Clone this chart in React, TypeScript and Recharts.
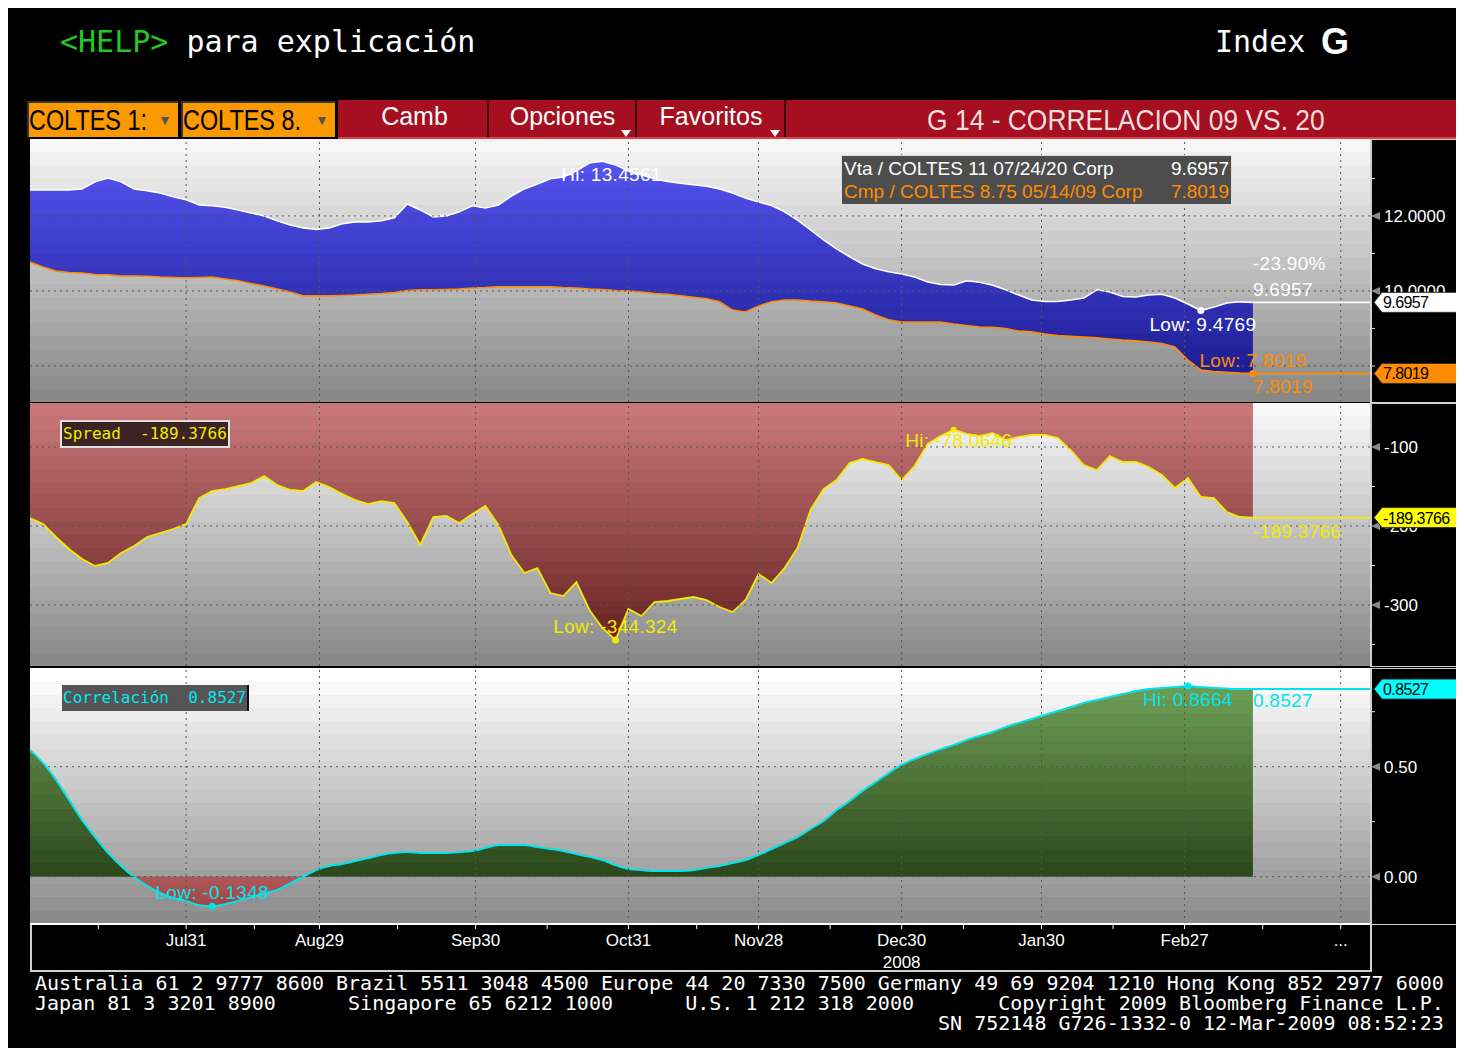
import React from "react";
import { Area, CartesianGrid, ComposedChart, Line, ReferenceDot, ReferenceLine, XAxis, YAxis } from "recharts";

const FONT = "'Liberation Sans', Arial, sans-serif";
const MONO = "'DejaVu Sans Mono', 'Liberation Mono', monospace";

// one reading every second trading day, mid Jun 2008 .. 12 Mar 2009
const vta = [
  12.69, 12.69, 12.69, 12.69, 12.72, 12.91, 13.01, 12.91, 12.72, 12.67,
  12.61, 12.51, 12.43, 12.29, 12.27, 12.23, 12.16, 12.08, 12.0, 11.87,
  11.76, 11.68, 11.64, 11.68, 11.79, 11.84, 11.84, 11.87, 11.95, 12.32,
  12.16, 11.97, 12.0, 12.11, 12.27, 12.21, 12.29, 12.53, 12.72, 12.85,
  12.99, 13.04, 13.2, 13.41, 13.4561, 13.36, 13.2, 13.09, 12.99, 12.92,
  12.87, 12.83, 12.79, 12.72, 12.61, 12.48, 12.37, 12.28, 12.11, 11.89,
  11.63, 11.36, 11.12, 10.91, 10.72, 10.59, 10.51, 10.45, 10.37, 10.24,
  10.17, 10.16, 10.27, 10.23, 10.15, 10.03, 9.89, 9.76, 9.72, 9.72,
  9.76, 9.81, 10.03, 9.97, 9.85, 9.84, 9.89, 9.91, 9.81, 9.65,
  9.4769, 9.57, 9.68, 9.71, 9.6957,
];

const cmp = [
  10.77, 10.64, 10.53, 10.49, 10.48, 10.44, 10.43, 10.4, 10.4, 10.39,
  10.37, 10.36, 10.35, 10.36, 10.37, 10.32, 10.27, 10.2, 10.13, 10.05,
  9.97, 9.87, 9.87, 9.87, 9.88, 9.89, 9.91, 9.93, 9.96, 10.01,
  10.03, 10.03, 10.04, 10.05, 10.08, 10.09, 10.11, 10.11, 10.11, 10.11,
  10.11, 10.09, 10.08, 10.05, 10.04, 10.01, 10.0, 9.97, 9.93, 9.91,
  9.87, 9.83, 9.79, 9.71, 9.49, 9.44, 9.6, 9.71, 9.76, 9.76,
  9.73, 9.71, 9.68, 9.6, 9.52, 9.36, 9.23, 9.17, 9.17, 9.17,
  9.17, 9.12, 9.08, 9.04, 9.03, 9.0, 8.93, 8.91, 8.85, 8.81,
  8.79, 8.77, 8.75, 8.72, 8.69, 8.67, 8.64, 8.6, 8.51, 8.16,
  7.89, 7.85, 7.83, 7.81, 7.8019,
];

const spread = [
  -189.9, -197.5, -213.9, -229.1, -241.8, -250.6, -246.8, -234.2, -225.3, -213.9,
  -208.9, -203.8, -197.5, -164.6, -155.7, -153.2, -149.4, -145.6, -136.7, -148.1,
  -154.4, -155.7, -144.3, -150.6, -159.5, -167.1, -172.2, -168.4, -170.9, -194.9,
  -224.0, -188.6, -187.3, -196.2, -184.8, -174.7, -198.7, -236.7, -259.5, -253.2,
  -284.8, -288.6, -270.9, -306.3, -329.1, -344.324, -305.1, -313.9, -296.2, -294.9,
  -292.4, -289.9, -293.7, -302.5, -308.9, -293.7, -260.8, -272.2, -253.2, -227.8,
  -179.7, -153.2, -141.8, -120.3, -115.2, -119.0, -122.8, -141.8, -124.1, -96.2,
  -86.1, -78.0646, -83.5, -86.1, -82.3, -91.1, -87.3, -84.8, -84.8, -88.6,
  -103.8, -122.8, -129.1, -111.4, -119.0, -119.0, -125.3, -135.4, -151.9, -139.2,
  -163.3, -164.6, -182.3, -188.6, -189.3766,
];

const corr = [
  0.576, 0.517, 0.44, 0.349, 0.258, 0.18, 0.108, 0.049, -0.001, -0.042,
  -0.074, -0.097, -0.11, -0.13, -0.1348, -0.125, -0.11, -0.093, -0.075, -0.06,
  -0.03, 0.0, 0.03, 0.049, 0.058, 0.071, 0.085, 0.099, 0.108, 0.112,
  0.108, 0.108, 0.108, 0.112, 0.117, 0.13, 0.144, 0.144, 0.144, 0.135,
  0.126, 0.117, 0.103, 0.09, 0.076, 0.053, 0.035, 0.03, 0.026, 0.026,
  0.026, 0.03, 0.04, 0.049, 0.062, 0.076, 0.099, 0.126, 0.153, 0.18,
  0.217, 0.253, 0.303, 0.344, 0.39, 0.43, 0.471, 0.508, 0.535, 0.558,
  0.58, 0.599, 0.621, 0.64, 0.658, 0.68, 0.699, 0.717, 0.735, 0.753,
  0.771, 0.79, 0.803, 0.817, 0.83, 0.844, 0.853, 0.858, 0.862, 0.8664,
  0.862, 0.858, 0.855, 0.853, 0.8527,
];

const dateTicks = [24, 44.5, 68.5, 92, 112, 134, 155.5, 177.5, 201.5];
const dateLabels = ["Jul31", "Aug29", "Sep30", "Oct31", "Nov28", "Dec30", "Jan30", "Feb27", "..."];
const yearLabels = ["", "", "", "", "", "2008", "", "", ""];
const minorDateTicks = [10.5, 34.5, 56.5, 79.5, 102.5, 123, 143.5, 166.5, 189.5];

// labelled levels, levels drawn as grid lines, and small unlabelled dashes
const priceTicks = [10, 12];
const priceGrid = [8, 10, 12];
const priceMinor = [8, 9, 11, 13];
const spreadTicks = [-100, -200, -300];
const spreadMinor = [-150, -250, -350];
const corrTicks = [0, 0.5];
const corrMinor = [0.25, 0.75];

const footer = [
  "Australia 61 2 9777 8600 Brazil 5511 3048 4500 Europe 44 20 7330 7500 Germany 49 69 9204 1210 Hong Kong 852 2977 6000",
  "Japan 81 3 3201 8900      Singapore 65 6212 1000      U.S. 1 212 318 2000       Copyright 2009 Bloomberg Finance L.P.",
  "                                                                           SN 752148 G726-1332-0 12-Mar-2009 08:52:23",
];

const STEP = 2;
const X_DOMAIN = [0, 206];
const PRICE_DOMAIN = [7.04, 14.05];
const SPREAD_DOMAIN = [-377.2, -44.3];
const CORR_DOMAIN = [-0.215, 0.9486];

const rows = vta.map((v, i) => ({
  t: i * STEP,
  vta: v,
  cmp: cmp[i],
  band: [cmp[i], v],
  spread: spread[i],
  corr: corr[i],
}));
const lastT = rows[rows.length - 1].t;
const last = (a: number[]) => a[a.length - 1];
const argMax = (a: number[]) => a.indexOf(Math.max(...a));
const argMin = (a: number[]) => a.indexOf(Math.min(...a));

const W = 1432;
const AXIS_W = 92;
const M = { top: 0, right: 0, bottom: 0, left: 0 };
const GRID = "#555555";

function mix(a: string, b: string, f: number) {
  const pa = [1, 3, 5].map((i) => parseInt(a.slice(i, i + 2), 16));
  const pb = [1, 3, 5].map((i) => parseInt(b.slice(i, i + 2), 16));
  return `rgb(${pa.map((v, j) => Math.round(v + (pb[j] - v) * f)).join(",")})`;
}

function bandStops(top: string, bottom: string, n: number, from = 0, to = 1) {
  const out: React.ReactNode[] = [];
  for (let i = 0; i < n; i++) {
    const c = mix(top, bottom, n === 1 ? 0 : i / (n - 1));
    out.push(<stop key={`${i}a`} offset={from + ((to - from) * i) / n} stopColor={c} />);
    out.push(<stop key={`${i}b`} offset={from + ((to - from) * (i + 1)) / n} stopColor={c} />);
  }
  return out;
}

const corrHi = Math.max(...corr, 0);
const corrLo = Math.min(...corr, 0);
const zeroAt = corrHi / (corrHi - corrLo);

type Note = { text: string; color: string; dx?: number; dy: number };
type Tag = { value: number; text: string; fill: string };

function NoteLabel(props: any) {
  const { viewBox, notes } = props;
  if (!viewBox) return null;
  const cx = viewBox.x + (viewBox.width || 0) / 2;
  const cy = viewBox.y + (viewBox.height || 0) / 2;
  return (
    <g>
      {notes.map((n: Note, i: number) => (
        <text key={i} x={cx + (n.dx || 0)} y={cy + n.dy} dy={6} fill={n.color} fontSize={19} fontFamily={FONT} textAnchor="middle" letterSpacing={0.3}>
          {n.text}
        </text>
      ))}
    </g>
  );
}

function EndLabel(props: any) {
  const { viewBox, notes } = props;
  if (!viewBox) return null;
  const x1 = viewBox.x;
  const y = viewBox.y;
  return (
    <g>
      {notes.map((n: Note, i: number) => (
        <text key={i} x={x1 + (n.dx || 0)} y={y + n.dy} dy={6} fill={n.color} fontSize={19} fontFamily={FONT} letterSpacing={0.3}>
          {n.text}
        </text>
      ))}
    </g>
  );
}

// axis tick: labelled level with marker, unlabelled level as short dash, last values as tags
function ValueTick(props: any) {
  const { x, y, payload, major, fmt, tags } = props;
  const v = payload.value;
  const tag = (tags as Tag[]).find((t) => t.value === v);
  if (tag) {
    return (
      <g>
        <polygon
          points={`${x + 4},${y} ${x + 12},${y - 10} ${x + 92},${y - 10} ${x + 92},${y + 10} ${x + 12},${y + 10}`}
          fill={tag.fill}
          stroke="#333"
        />
        <text x={x + 13} y={y} dy={6} fill="#000" fontSize={16} fontFamily={FONT} letterSpacing={-0.6}>
          {tag.text}
        </text>
      </g>
    );
  }
  if (!major.includes(v)) return <line x1={x} x2={x + 5} y1={y} y2={y} stroke="#dddddd" />;
  return (
    <g>
      <polygon points={`${x + 1},${y} ${x + 10},${y - 4} ${x + 10},${y + 4}`} fill="#8a8a8a" />
      <text x={x + 14} y={y} dy={6} fill="#fff" fontSize={17} fontFamily={FONT}>
        {fmt(v)}
      </text>
    </g>
  );
}

function DateTick(props: any) {
  const { x, y, payload } = props;
  const i = dateTicks.indexOf(payload.value);
  if (i < 0) return null;
  return (
    <g>
      <text x={x} y={y + 15} textAnchor="middle" fill="#fff" fontSize={17} fontFamily={FONT}>
        {dateLabels[i]}
      </text>
      {yearLabels[i] ? (
        <text x={x} y={y + 37} textAnchor="middle" fill="#fff" fontSize={17} fontFamily={FONT}>
          {yearLabels[i]}
        </text>
      ) : null}
    </g>
  );
}

function gridLines(values: number[]) {
  return [
    ...dateTicks.map((t) => <ReferenceLine key={`gx${t}`} x={t} stroke={GRID} strokeDasharray="2 4" />),
    ...values.map((v) => <ReferenceLine key={`gy${v}`} y={v} stroke={GRID} strokeDasharray="2 4" />),
  ];
}

function PricePanel() {
  const hi = argMax(vta);
  const lo = argMin(vta);
  const cLo = argMin(cmp);
  const tags: Tag[] = [
    { value: last(vta), text: "9.6957", fill: "#ffffff" },
    { value: last(cmp), text: "7.8019", fill: "#ff8c00" },
  ];
  return (
    <ComposedChart width={W} height={263} data={rows} margin={M}>
      <defs>
        <linearGradient id="bgPrice" x1="0" y1="0" x2="0" y2="1">
          {bandStops("#f6f6f6", "#888888", 20)}
        </linearGradient>
        <linearGradient id="blueFill" x1="0" y1="0" x2="0" y2="1">
          {bandStops("#5252ee", "#1e1e96", 16)}
        </linearGradient>
      </defs>
      <CartesianGrid horizontal={false} vertical={false} fill="url(#bgPrice)" />
      <XAxis type="number" dataKey="t" domain={X_DOMAIN} allowDataOverflow hide />
      <YAxis
        orientation="right"
        width={AXIS_W}
        domain={PRICE_DOMAIN}
        allowDataOverflow
        ticks={[...priceTicks, ...priceMinor, ...tags.map((t) => t.value)]}
        interval={0}
        tickSize={0}
        tickMargin={0}
        axisLine={false}
        tickLine={false}
        tick={<ValueTick major={priceTicks} tags={tags} fmt={(v: number) => v.toFixed(4)} />}
      />
      <Area dataKey="band" type="linear" fill="url(#blueFill)" fillOpacity={1} stroke="none" isAnimationActive={false} />
      <Line dataKey="cmp" type="linear" stroke="#ff8c00" strokeWidth={1.6} dot={false} activeDot={false} isAnimationActive={false} />
      <Line dataKey="vta" type="linear" stroke="#ffffff" strokeWidth={1.6} dot={false} activeDot={false} isAnimationActive={false} />
      {gridLines(priceGrid)}
      <ReferenceLine
        segment={[{ x: lastT, y: last(vta) }, { x: X_DOMAIN[1], y: last(vta) }]}
        stroke="#ffffff"
        strokeWidth={1.6}
        label={
          <EndLabel
            notes={[
              { text: "-23.90%", color: "#ffffff", dy: -38 },
              { text: "9.6957", color: "#ffffff", dy: -12 },
            ]}
          />
        }
      />
      <ReferenceLine
        segment={[{ x: lastT, y: last(cmp) }, { x: X_DOMAIN[1], y: last(cmp) }]}
        stroke="#ff8c00"
        strokeWidth={1.6}
        label={<EndLabel notes={[{ text: "7.8019", color: "#ff8c00", dy: 14 }]} />}
      />
      <ReferenceDot x={rows[hi].t} y={vta[hi]} r={0} fill="#fff" stroke="none" label={<NoteLabel notes={[{ text: "Hi: 13.4561", color: "#ffffff", dx: 9, dy: 14 }]} />} />
      <ReferenceDot x={rows[lo].t} y={vta[lo]} r={3.5} fill="#fff" stroke="none" label={<NoteLabel notes={[{ text: "Low: 9.4769", color: "#ffffff", dx: 2, dy: 14 }]} />} />
      <ReferenceDot x={rows[cLo].t} y={cmp[cLo]} r={3.5} fill="#ff8c00" stroke="none" label={<NoteLabel notes={[{ text: "Low: 7.8019", color: "#ff8c00", dy: -12 }]} />} />
    </ComposedChart>
  );
}

function SpreadPanel() {
  const hi = argMax(spread);
  const lo = argMin(spread);
  const tags: Tag[] = [{ value: last(spread), text: "-189.3766", fill: "#ffff00" }];
  return (
    <ComposedChart width={W} height={263} data={rows} margin={M}>
      <defs>
        <linearGradient id="bgSpread" x1="0" y1="0" x2="0" y2="1">
          {bandStops("#f8f8f8", "#888888", 20)}
        </linearGradient>
        <linearGradient id="redFill" x1="0" y1="0" x2="0" y2="1">
          {bandStops("#c87878", "#6a2424", 18)}
        </linearGradient>
      </defs>
      <CartesianGrid horizontal={false} vertical={false} fill="url(#bgSpread)" />
      <XAxis type="number" dataKey="t" domain={X_DOMAIN} allowDataOverflow hide />
      <YAxis
        orientation="right"
        width={AXIS_W}
        domain={SPREAD_DOMAIN}
        allowDataOverflow
        ticks={[...spreadTicks, ...spreadMinor, ...tags.map((t) => t.value)]}
        interval={0}
        tickSize={0}
        tickMargin={0}
        axisLine={false}
        tickLine={false}
        tick={<ValueTick major={spreadTicks} tags={tags} fmt={(v: number) => String(v)} />}
      />
      <Area dataKey="spread" type="linear" baseValue={SPREAD_DOMAIN[1]} fill="url(#redFill)" fillOpacity={1} stroke="none" isAnimationActive={false} />
      <Line dataKey="spread" type="linear" stroke="#f2ea00" strokeWidth={1.8} dot={false} activeDot={false} isAnimationActive={false} />
      {gridLines(spreadTicks)}
      <ReferenceLine
        segment={[{ x: lastT, y: last(spread) }, { x: X_DOMAIN[1], y: last(spread) }]}
        stroke="#f2ea00"
        strokeWidth={1.8}
        label={<EndLabel notes={[{ text: "-189.3766", color: "#f2ea00", dy: 14 }]} />}
      />
      <ReferenceDot x={rows[hi].t} y={spread[hi]} r={3} fill="#f2ea00" stroke="none" label={<NoteLabel notes={[{ text: "Hi: -78.0646", color: "#f2ea00", dx: 5, dy: 11 }]} />} />
      <ReferenceDot x={rows[lo].t} y={spread[lo]} r={3.5} fill="#f2ea00" stroke="none" label={<NoteLabel notes={[{ text: "Low: -344.324", color: "#f2ea00", dy: -13 }]} />} />
    </ComposedChart>
  );
}

function CorrPanel() {
  const hi = argMax(corr);
  const lo = argMin(corr);
  const tags: Tag[] = [{ value: last(corr), text: "0.8527", fill: "#00ffff" }];
  return (
    <ComposedChart width={W} height={303} data={rows} margin={M}>
      <defs>
        <linearGradient id="bgCorr" x1="0" y1="0" x2="0" y2="1">
          {bandStops("#ffffff", "#8c8c8c", 19)}
        </linearGradient>
        <linearGradient id="corrFill" x1="0" y1="0" x2="0" y2="1">
          {bandStops("#6c9c54", "#2c4a1c", 14, 0, zeroAt)}
          <stop offset={zeroAt} stopColor="#b05858" />
          <stop offset={1} stopColor="#a04646" />
        </linearGradient>
      </defs>
      <CartesianGrid horizontal={false} vertical={false} fill="url(#bgCorr)" />
      <XAxis
        type="number"
        dataKey="t"
        domain={X_DOMAIN}
        allowDataOverflow
        height={47}
        ticks={[...dateTicks, ...minorDateTicks].sort((a, b) => a - b)}
        interval={0}
        tickSize={5}
        axisLine={{ stroke: "#ffffff", strokeWidth: 2 }}
        tickLine={{ stroke: "#ffffff" }}
        tick={<DateTick />}
      />
      <YAxis
        orientation="right"
        width={AXIS_W}
        domain={CORR_DOMAIN}
        allowDataOverflow
        ticks={[...corrTicks, ...corrMinor, ...tags.map((t) => t.value)]}
        interval={0}
        tickSize={0}
        tickMargin={0}
        axisLine={false}
        tickLine={false}
        tick={<ValueTick major={corrTicks} tags={tags} fmt={(v: number) => v.toFixed(2)} />}
      />
      <Area dataKey="corr" type="monotone" baseValue={0} fill="url(#corrFill)" fillOpacity={1} stroke="none" isAnimationActive={false} />
      <Line dataKey="corr" type="monotone" stroke="#00e4ee" strokeWidth={2} dot={false} activeDot={false} isAnimationActive={false} />
      {gridLines(corrTicks)}
      <ReferenceLine
        segment={[{ x: lastT, y: last(corr) }, { x: X_DOMAIN[1], y: last(corr) }]}
        stroke="#00e4ee"
        strokeWidth={2}
        label={<EndLabel notes={[{ text: "0.8527", color: "#00e4ee", dy: 12 }]} />}
      />
      <ReferenceDot x={rows[hi].t} y={corr[hi]} r={3.5} fill="#00e4ee" stroke="none" label={<NoteLabel notes={[{ text: "Hi: 0.8664", color: "#00e4ee", dy: 14 }]} />} />
      <ReferenceDot x={rows[lo].t} y={corr[lo]} r={3.5} fill="#00e4ee" stroke="none" label={<NoteLabel notes={[{ text: "Low: -0.1348", color: "#00e4ee", dy: -13 }]} />} />
    </ComposedChart>
  );
}

const abs = (left: number, top: number, extra: React.CSSProperties = {}): React.CSSProperties => ({
  position: "absolute",
  left,
  top,
  ...extra,
});

function Narrow({ children, scale }: { children: React.ReactNode; scale: number }) {
  return (
    <span style={{ display: "inline-block", transform: `scaleX(${scale})`, transformOrigin: "center" }}>{children}</span>
  );
}

function Toolbar() {
  const red = "#a50f1f";
  const btn = (left: number, width: number, label: string, arrow: boolean) => (
    <div
      style={abs(left, 92, {
        width,
        height: 37,
        background: red,
        borderRight: "2px solid #3a0508",
        color: "#fff",
        fontFamily: FONT,
        fontSize: 25,
        lineHeight: "32px",
        textAlign: "center",
      })}
    >
      {label}
      {arrow ? (
        <div
          style={abs(width - 14, 30, {
            width: 0,
            height: 0,
            borderLeft: "5px solid transparent",
            borderRight: "5px solid transparent",
            borderTop: "7px solid #fff",
          })}
        />
      ) : null}
    </div>
  );
  const orange = (left: number, width: number, label: string) => (
    <div
      style={abs(left, 93, {
        width,
        height: 34,
        background: "#fa9a00",
        borderTop: "2px solid #333",
        borderLeft: "2px solid #333",
        color: "#000",
        fontFamily: FONT,
        fontSize: 30,
        lineHeight: "34px",
        overflow: "hidden",
        whiteSpace: "nowrap",
      })}
    >
      <span style={{ display: "inline-block", transform: "scaleX(0.78)", transformOrigin: "left" }}>{label}</span>
      <span style={abs(width - 20, 0, { fontSize: 14, color: "#555" })}>▼</span>
    </div>
  );
  return (
    <>
      <div style={abs(330, 92, { width: 1126, height: 37, background: red, borderBottom: "2px solid #d8404c" })} />
      {orange(19, 149, "COLTES 1:")}
      {orange(173, 152, "COLTES 8.")}
      {btn(334, 145, "Camb", false)}
      {btn(482, 145, "Opciones", true)}
      {btn(630, 146, "Favoritos", true)}
      <div
        style={abs(779, 92, {
          width: 677,
          height: 37,
          color: "#f2dede",
          fontFamily: FONT,
          fontSize: 30,
          lineHeight: "40px",
          textAlign: "center",
        })}
      >
        <Narrow scale={0.88}>G 14 - CORRELACION 09 VS. 20</Narrow>
      </div>
    </>
  );
}

export default function App() {
  return (
    <div style={{ position: "relative", width: 1456, height: 1040, background: "#000", overflow: "hidden" }}>
      <div style={abs(52, 16, { fontFamily: MONO, fontSize: 30, lineHeight: "36px", color: "#fff", whiteSpace: "pre" })}>
        <span style={{ color: "#22c822" }}>{"<HELP>"}</span>
        {" para explicación"}
      </div>
      <div style={abs(1207, 16, { fontFamily: MONO, fontSize: 30, lineHeight: "36px", color: "#fff", whiteSpace: "pre" })}>
        Index
      </div>
      <div style={abs(1313, 14, { fontFamily: FONT, fontWeight: "bold", fontSize: 36, lineHeight: "40px", color: "#fff" })}>G</div>

      <Toolbar />

      <div style={abs(1362, 131, { width: 91, height: 262, border: "1px solid #cfcfcf", borderLeft: "2px solid #cfcfcf" })} />
      <div style={abs(1362, 395, { width: 91, height: 262, border: "1px solid #cfcfcf", borderLeft: "2px solid #cfcfcf" })} />
      <div style={abs(1362, 660, { width: 91, height: 255, border: "1px solid #cfcfcf", borderLeft: "2px solid #cfcfcf" })} />
      <div style={abs(22, 916, { width: 1338, height: 46, borderLeft: "2px solid #d0d0d0", borderRight: "2px solid #d0d0d0", borderBottom: "2px solid #d0d0d0" })} />

      <div style={abs(22, 131)}>
        <PricePanel />
      </div>
      <div style={abs(22, 395)}>
        <SpreadPanel />
      </div>
      <div style={abs(22, 660)}>
        <CorrPanel />
      </div>

      <div
        style={abs(833, 147, {
          width: 385,
          height: 47,
          background: "#4d4d4d",
          border: "1px solid #dddddd",
          fontFamily: FONT,
          fontSize: 19,
          lineHeight: "23px",
          padding: "1px 2px 0 2px",
          boxSizing: "content-box",
        })}
      >
        <div style={{ display: "flex", justifyContent: "space-between", color: "#fff" }}>
          <span>Vta / COLTES 11 07/24/20 Corp</span>
          <span>9.6957</span>
        </div>
        <div style={{ display: "flex", justifyContent: "space-between", color: "#ff8c00" }}>
          <span>Cmp / COLTES 8.75 05/14/09 Corp</span>
          <span>7.8019</span>
        </div>
      </div>
      <div
        style={abs(52, 412, {
          height: 24,
          background: "#3c2424",
          border: "2px solid #e0e0e0",
          color: "#f2ea00",
          fontFamily: MONO,
          fontSize: 16,
          lineHeight: "24px",
          padding: "0 1px",
          whiteSpace: "pre",
        })}
      >
        {"Spread  -189.3766"}
      </div>
      <div
        style={abs(54, 677, {
          height: 26,
          background: "#555555",
          borderRight: "2px solid #111",
          color: "#00e8f0",
          fontFamily: MONO,
          fontSize: 16,
          lineHeight: "26px",
          padding: "0 1px",
          whiteSpace: "pre",
        })}
      >
        {"Correlación  0.8527"}
      </div>

      {footer.map((line, i) => (
        <div
          key={i}
          style={abs(27, 965 + i * 20, { fontFamily: MONO, fontSize: 20, lineHeight: "20px", color: "#fff", whiteSpace: "pre" })}
        >
          {line}
        </div>
      ))}
    </div>
  );
}
